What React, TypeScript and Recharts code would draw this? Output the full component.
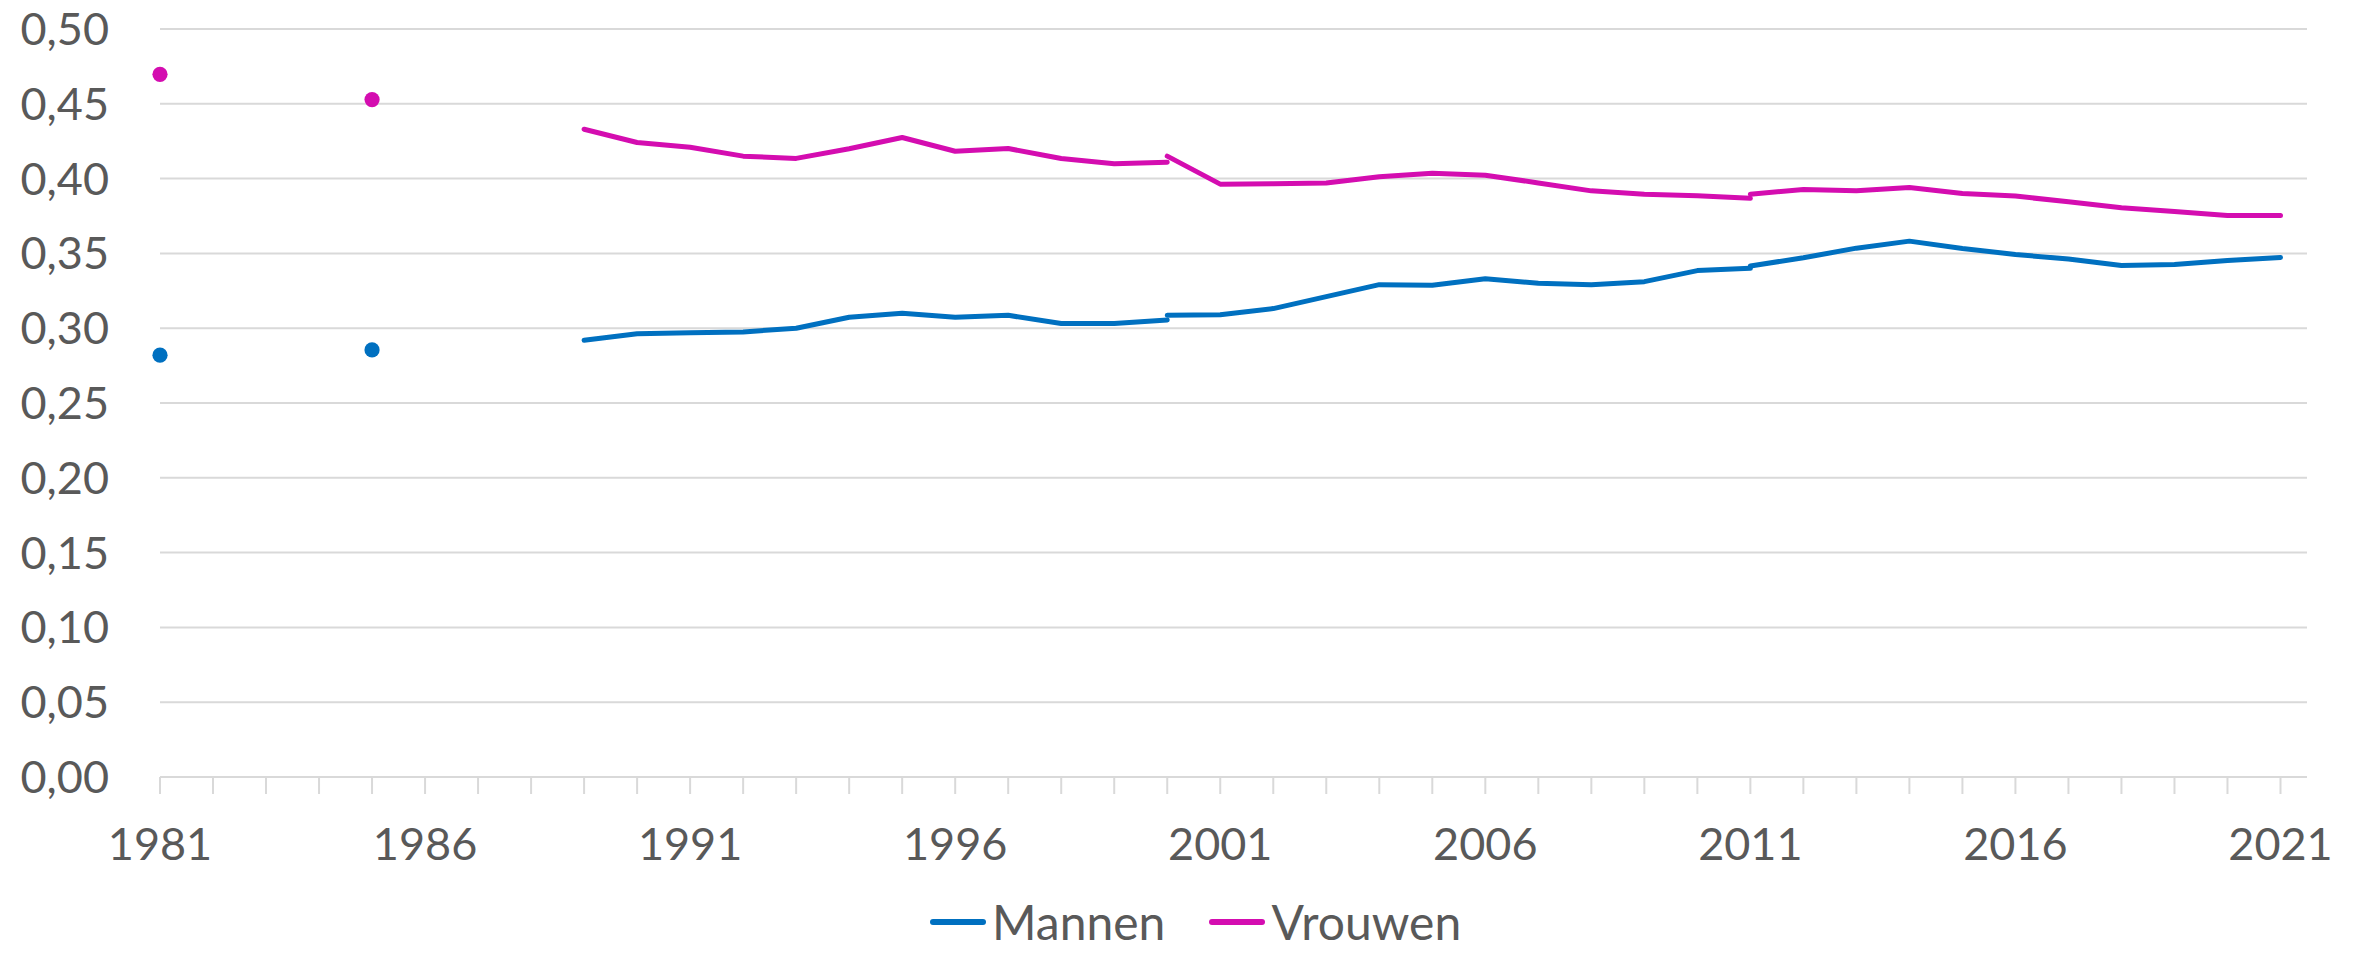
import React from "react";
import { LineChart, Line, XAxis, YAxis, CartesianGrid } from "recharts";

// Kleuren zoals in de bron
const BLUE = "#0070C0";
const MAGENTA = "#D40DB0";
const GRID = "#D9D9D9";
const TEXT = "#595959";

// x-as: elk jaar een streepje, elke 5 jaar een label
const allYears = [
  1981, 1982, 1983, 1984, 1985, 1986, 1987, 1988, 1989, 1990, 1991, 1992, 1993, 1994,
  1995, 1996, 1997, 1998, 1999, 2000, 2001, 2002, 2003, 2004, 2005, 2006, 2007, 2008,
  2009, 2010, 2011, 2012, 2013, 2014, 2015, 2016, 2017, 2018, 2019, 2020, 2021,
];
const yTicks = [0, 0.05, 0.1, 0.15, 0.2, 0.25, 0.3, 0.35, 0.4, 0.45, 0.5];

// losse metingen
const yearsEarly = [1981, 1985];
const mannenEarly = [0.282, 0.2855];
const vrouwenEarly = [0.4697, 0.4528];

// reeks 1989-2000
const yearsA = [1989, 1990, 1991, 1992, 1993, 1994, 1995, 1996, 1997, 1998, 1999, 2000];
const mannenA = [0.292, 0.2963, 0.297, 0.2975, 0.3, 0.3073, 0.31, 0.3073, 0.3086, 0.3031, 0.3031, 0.3055];
const vrouwenA = [0.433, 0.4241, 0.421, 0.415, 0.4135, 0.42, 0.4275, 0.4183, 0.4201, 0.4134, 0.41, 0.411];

// reeks 2000-2011
const yearsB = [2000, 2001, 2002, 2003, 2004, 2005, 2006, 2007, 2008, 2009, 2010, 2011];
const mannenB = [0.3086, 0.309, 0.3131, 0.3211, 0.3291, 0.3287, 0.3331, 0.33, 0.3291, 0.3311, 0.3385, 0.34];
const vrouwenB = [0.415, 0.3963, 0.3965, 0.397, 0.4012, 0.4036, 0.4023, 0.3971, 0.3918, 0.3896, 0.3885, 0.3868];

// reeks 2011-2021
const yearsC = [2011, 2012, 2013, 2014, 2015, 2016, 2017, 2018, 2019, 2020, 2021];
const mannenC = [0.3416, 0.3471, 0.3535, 0.3582, 0.3533, 0.3493, 0.3462, 0.3419, 0.3426, 0.3453, 0.3473];
const vrouwenC = [0.3896, 0.3927, 0.3918, 0.3941, 0.39, 0.3883, 0.3845, 0.3805, 0.378, 0.3753, 0.3753];

const legendItems = [
  { name: "Mannen", color: BLUE },
  { name: "Vrouwen", color: MAGENTA },
];

const zip = (years: number[], values: number[]) =>
  years.map((year, i) => ({ year, v: values[i] }));

const segments = [
  { id: "mA", color: BLUE, data: zip(yearsA, mannenA) },
  { id: "mB", color: BLUE, data: zip(yearsB, mannenB) },
  { id: "mC", color: BLUE, data: zip(yearsC, mannenC) },
  { id: "vA", color: MAGENTA, data: zip(yearsA, vrouwenA) },
  { id: "vB", color: MAGENTA, data: zip(yearsB, vrouwenB) },
  { id: "vC", color: MAGENTA, data: zip(yearsC, vrouwenC) },
];

const dots = [
  { id: "mE", color: BLUE, data: zip(yearsEarly, mannenEarly) },
  { id: "vE", color: MAGENTA, data: zip(yearsEarly, vrouwenEarly) },
];

const FONT = "Lato, 'Open Sans', sans-serif";

export default function App() {
  return (
    <div style={{ position: "absolute", left: 0, top: 0, width: 2363, height: 953, background: "#fff", overflow: "hidden" }}>
      <LineChart
        width={2363}
        height={953}
        margin={{ top: 29, right: 56, left: 0, bottom: 146 }}
      >
        <CartesianGrid vertical={false} stroke={GRID} strokeWidth={2} />
        <XAxis
          dataKey="year"
          type="number"
          domain={[1981, 2021.5]}
          ticks={allYears}
          interval={0}
          height={30}
          axisLine={{ stroke: GRID, strokeWidth: 2 }}
          tickLine={{ stroke: GRID, strokeWidth: 2 }}
          tickSize={17}
          tickMargin={34}
          tickFormatter={(y: number) => ((y - 1981) % 5 === 0 ? String(y) : "")}
          tick={{ fill: TEXT, fontSize: 45, fontFamily: FONT }}
        />
        <YAxis
          type="number"
          domain={[0, 0.5]}
          ticks={yTicks}
          interval={0}
          width={160}
          axisLine={false}
          tickLine={false}
          tickSize={0}
          tickMargin={51}
          tickFormatter={(v: number) => v.toFixed(2).replace(".", ",")}
          tick={{ fill: TEXT, fontSize: 45, fontFamily: FONT }}
        />
        {segments.map((s) => (
          <Line
            key={s.id}
            data={s.data}
            dataKey="v"
            type="linear"
            stroke={s.color}
            strokeWidth={5}
            strokeLinecap="round"
            strokeLinejoin="round"
            dot={false}
            activeDot={false}
            isAnimationActive={false}
          />
        ))}
        {dots.map((s) => (
          <Line
            key={s.id}
            data={s.data}
            dataKey="v"
            stroke="none"
            dot={{ r: 7.6, fill: s.color, stroke: "none", strokeWidth: 0 }}
            activeDot={false}
            isAnimationActive={false}
          />
        ))}
      </LineChart>
      <div
        style={{
          position: "absolute",
          left: 930,
          top: 903,
          display: "flex",
          alignItems: "center",
          fontFamily: FONT,
          fontSize: 48,
          color: TEXT,
          lineHeight: "38px",
          whiteSpace: "nowrap",
        }}
      >
        {legendItems.map((it) => (
          <div key={it.name} style={{ display: "flex", alignItems: "center", marginRight: 44 }}>
            <span
              style={{
                display: "inline-block",
                width: 56,
                height: 6,
                borderRadius: 3,
                background: it.color,
                marginRight: 6,
              }}
            />
            <span>{it.name}</span>
          </div>
        ))}
      </div>
    </div>
  );
}
